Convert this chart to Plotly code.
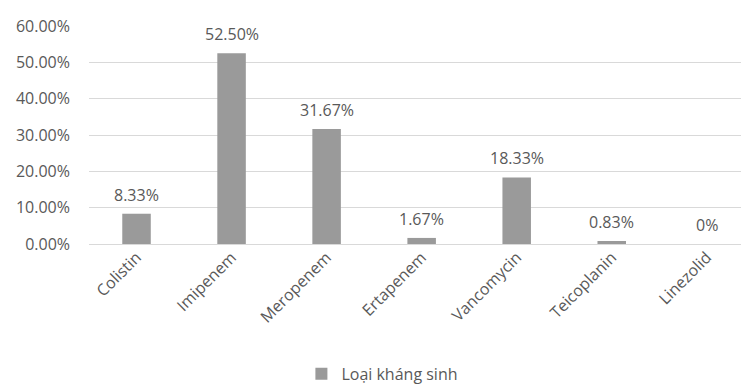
import plotly.graph_objects as go

categories = ["Colistin", "Imipenem", "Meropenem", "Ertapenem", "Vancomycin", "Teicoplanin", "Linezolid"]
values = [8.33, 52.50, 31.67, 1.67, 18.33, 0.83, 0.0]
series_name = "Loại kháng sinh"
y_ticks = [0, 10, 20, 30, 40, 50, 60]
y_tick_labels = ["0.00%", "10.00%", "20.00%", "30.00%", "40.00%", "50.00%", "60.00%"]

labels = [("0%" if v == 0 else f"{v:.2f}%") for v in values]

FONT = "Open Sans"
TXT = "#595959"
FS = 16

fig = go.Figure()
fig.add_trace(go.Bar(
    x=categories, y=values, name=series_name,
    marker=dict(color="#9a9a9a", line=dict(width=0)),
    width=0.3, showlegend=True,
))

for c, v, t in zip(categories, values, labels):
    fig.add_annotation(x=c, y=v, text=t, showarrow=False, yanchor="bottom",
                       yshift=6, font=dict(family=FONT, size=FS, color=TXT))

fig.update_layout(
    width=741, height=391,
    margin=dict(l=89, r=0, t=26, b=147, autoexpand=False),
    paper_bgcolor="white", plot_bgcolor="white",
    font=dict(family=FONT, size=FS, color=TXT),
    xaxis=dict(range=[-0.5, 6.36], tickangle=-45, showgrid=False, showline=False,
               ticks="", automargin=False,
               tickfont=dict(family=FONT, size=FS, color=TXT)),
    yaxis=dict(range=[0, 60], tickvals=y_ticks, ticktext=y_tick_labels,
               showgrid=True, gridcolor="#d9d9d9", gridwidth=1, zeroline=True,
               zerolinecolor="#d9d9d9", zerolinewidth=1, showline=False,
               ticks="", ticklabelstandoff=18, automargin=False,
               tickfont=dict(family=FONT, size=FS, color=TXT)),
    legend=dict(orientation="h", x=0.450, y=-0.674, xanchor="center", yanchor="bottom",
                itemwidth=30, font=dict(family=FONT, size=FS, color=TXT),
                bgcolor="rgba(0,0,0,0)"),
)

fig.write_html("out.html")
